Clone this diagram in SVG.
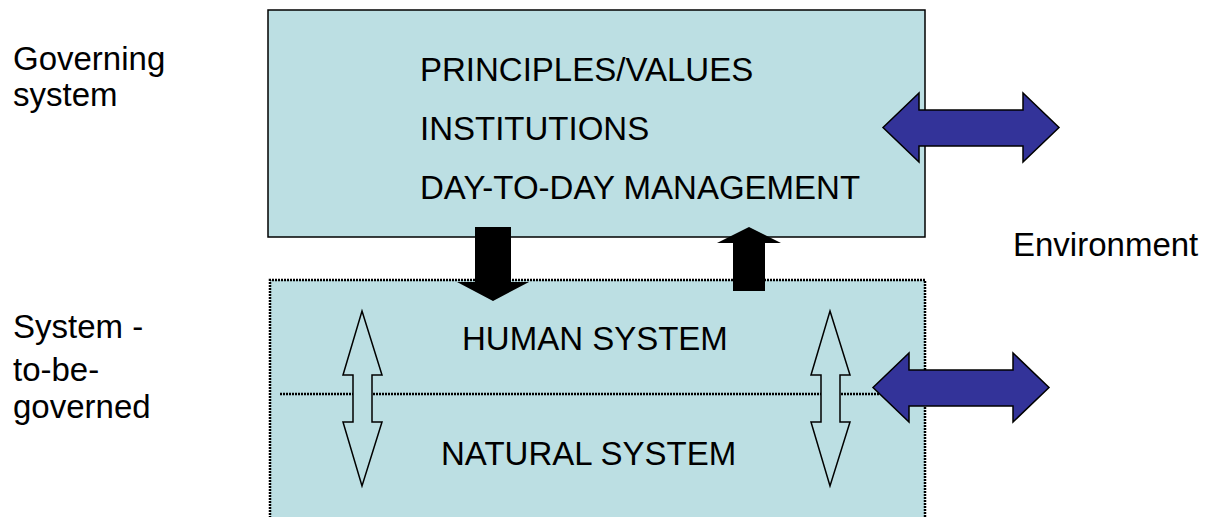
<svg xmlns="http://www.w3.org/2000/svg" width="1207" height="517" viewBox="0 0 1207 517">
<style>
text{font-family:"Liberation Sans",Arial,sans-serif;font-size:33px;fill:#000}
.box{fill:#BCDFE3}
.blue{fill:#333399;stroke:#000;stroke-width:1.5;stroke-linejoin:miter}
.black{fill:#000}
.hollow{fill:#BCDFE3;stroke:#000;stroke-width:1.5}
.dot{stroke:#000;stroke-width:2.5;stroke-dasharray:2 1;fill:none}
</style>
<rect width="1207" height="517" fill="#fff"/>
<g id="label-governing">
<text x="13" y="70">Governing</text>
<text x="13" y="106">system</text>
</g>
<g id="label-tobegoverned">
<text x="13" y="338">System -</text>
<text x="13" y="381">to-be-</text>
<text x="13" y="418">governed</text>
</g>
<g id="label-environment"><text x="1013" y="256">Environment</text></g>
<g id="governing-system">
<rect class="box" x="268" y="10" width="657" height="227" stroke="#000" stroke-width="1.5"/>
<text x="420" y="81">PRINCIPLES/VALUES</text>
<text x="420" y="140">INSTITUTIONS</text>
<text x="420" y="199">DAY-TO-DAY MANAGEMENT</text>
</g>
<g id="system-to-be-governed">
<rect class="box" x="270" y="280" width="655" height="250"/>
<path class="dot" d="M270 530 V280 H925 V530"/>
<path class="dot" d="M280 394 H880"/>
<text x="462" y="350">HUMAN SYSTEM</text>
<text x="441" y="465">NATURAL SYSTEM</text>
</g>
<g id="connectors">
<polygon class="black" points="475,227 511,227 511,282 529,282 493,301 457,282 475,282"/>
<polygon class="black" points="749,227 781,243 765,243 765,291 733,291 733,243 717,243"/>
<polygon class="hollow" points="362,311 382,375 372,375 372,422 382,422 362,486 343,422 353,422 353,375 343,375"/>
<polygon class="hollow" points="830,311 850,375 840,375 840,422 850,422 830,486 811,422 821,422 821,375 811,375"/>
<polygon class="blue" points="883,127.5 919,93 919,110 1023,110 1023,93 1059,127.5 1023,162 1023,146 919,146 919,162"/>
<polygon class="blue" points="873,387.5 909,353 909,370 1013,370 1013,353 1049,387.5 1013,422 1013,406 909,406 909,422"/>
</g>
</svg>
